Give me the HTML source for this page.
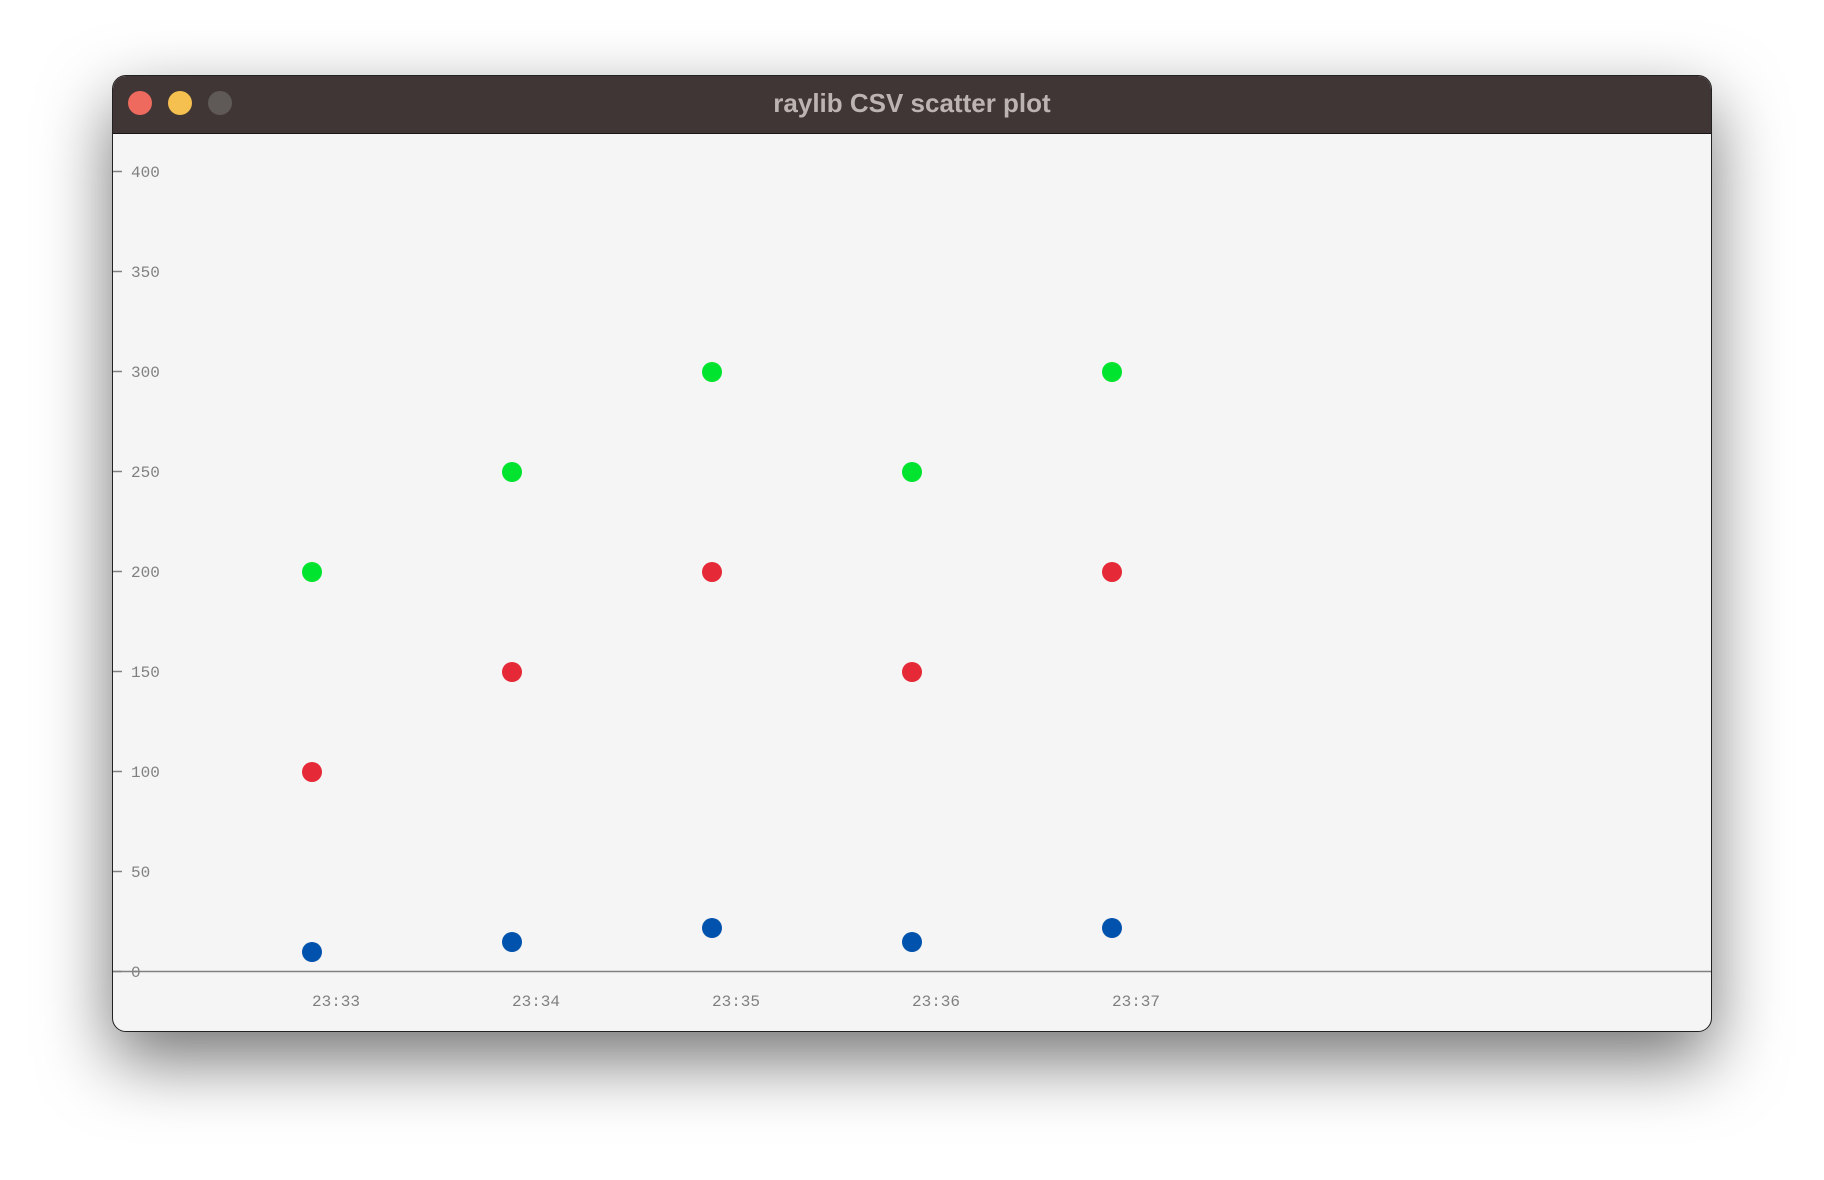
<!DOCTYPE html>
<html><head><meta charset="utf-8"><style>
html,body{margin:0;padding:0;background:#fff;width:1824px;height:1180px;overflow:hidden;}
#win{position:absolute;left:112px;top:75px;width:1600px;height:957px;border-radius:14px;background:#f5f5f5;box-shadow:0 28px 70px rgba(0,0,0,0.55);border:1px solid #222;box-sizing:border-box;overflow:hidden;}
#bar{position:absolute;left:0;top:0;width:100%;height:57px;background:#403635;border-bottom:1px solid #1a1414;}
.btn{position:absolute;top:15px;width:24px;height:24px;border-radius:50%;}
#title{position:absolute;left:0;right:0;top:12px;text-align:center;font:bold 26px "Liberation Sans",sans-serif;color:#bcb4b2;}
svg{position:absolute;left:0;top:0;}
</style></head><body>
<div id="win">
<div id="bar">
<div class="btn" style="left:15px;background:#ee6a5e"></div>
<div class="btn" style="left:55px;background:#f5c04f"></div>
<div class="btn" style="left:95px;background:#5f5a57"></div>
<div id="title">raylib CSV scatter plot</div>
</div>
</div>
<svg id="chart" width="1824" height="1180"></svg>
<script>
const categories=["23:33","23:34","23:35","23:36","23:37"];
const seriesGreen=[200,250,300,250,300];
const seriesRed=[100,150,200,150,200];
const seriesBlue=[10,15,22,15,22];
const yTicks=[0,50,100,150,200,250,300,350,400];
const NS="http://www.w3.org/2000/svg";
const svg=document.getElementById('chart');
function xs(i){return 312+200*i;}
function ys(v){return 972-2*v;}
function mk(t,a){const e=document.createElementNS(NS,t);for(const k in a)e.setAttribute(k,a[k]);svg.appendChild(e);return e;}
let ax=mk('line',{x1:113,x2:1711,y1:971.5,y2:971.5,stroke:'#808080','stroke-width':1.5});


yTicks.forEach(v=>{
 const tk=mk('line',{x1:113,x2:122,y1:ys(v)-0.5,y2:ys(v)-0.5,stroke:'#808080','stroke-width':1.5});
 
 
 const t=mk('text',{x:131,y:ys(v)+5,fill:'#808080','font-family':'Liberation Mono, monospace','font-size':16});
 t.textContent=String(v);
 
 
});
categories.forEach((c,i)=>{
 const t=mk('text',{x:xs(i),y:1006,fill:'#808080','font-family':'Liberation Mono, monospace','font-size':16});
 t.textContent=c;
 
 
});
[[seriesGreen,'#00e430','green-point'],[seriesRed,'#e62937','red-point'],[seriesBlue,'#0052ac','blue-point']].forEach(([s,col,nm])=>{
 s.forEach((v,i)=>{
  const c=mk('circle',{cx:xs(i),cy:ys(v),r:10,fill:col});
  
  
 });
});
</script>
</body></html>
